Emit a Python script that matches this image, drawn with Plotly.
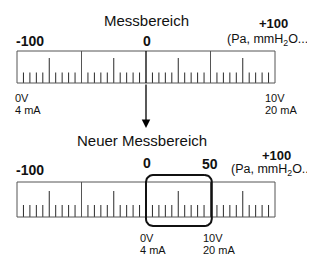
import numpy as np
import plotly.graph_objects as go

# ---------------- data ----------------
scale_min, scale_max = -100, 100
minor_step = 5
medium_step = 25
major_step = 50

top_title = "Messbereich"
bottom_title = "Neuer Messbereich"
top_label_values = [-100, 0, 100]
top_label_texts = ["-100", "0", "+100"]
bottom_label_values = [-100, 0, 50, 100]
bottom_label_texts = ["-100", "0", "50", "+100"]
unit_text = "(Pa, mmH<sub>2</sub>O...)"
unit_text_cut = "(Pa, mmH<sub>2</sub>O..."
new_range = [0, 50]
signal_low = ["0V", "4 mA"]
signal_high = ["10V", "20 mA"]

# ---------------- layout helpers ----------------
W, H = 315, 255
OFF = 8  # page body margin
PX_PER_UNIT = 1.29
X0_PX = 146.0 - OFF
x_range = [(0 - X0_PX) / PX_PER_UNIT, (W - X0_PX) / PX_PER_UNIT]
y_range = [H + OFF, OFF]

FONT = "Liberation Sans, Arial, sans-serif"
TICK_COLOR = "#2a2a2a"
FRAME_COLOR = "#555555"

fig = go.Figure()


def add_scale(y_top, y_bot, med_h, small_h):
    vals = np.arange(scale_min, scale_max + minor_step, minor_step)
    xs_small, ys_small, xs_med, ys_med, xs_maj, ys_maj = [], [], [], [], [], []
    for v in vals:
        if v % major_step == 0:
            if v == 0:
                continue
            xs_maj += [v, v, None]
            ys_maj += [y_top, y_bot, None]
        elif v % medium_step == 0:
            xs_med += [v, v, None]
            ys_med += [y_bot - med_h, y_bot, None]
        else:
            xs_small += [v, v, None]
            ys_small += [y_bot - small_h, y_bot, None]
    for xs, ys, c in [(xs_small, ys_small, TICK_COLOR), (xs_med, ys_med, TICK_COLOR),
                      (xs_maj, ys_maj, FRAME_COLOR)]:
        fig.add_trace(go.Scatter(x=xs, y=ys, mode="lines",
                                 line=dict(color=c, width=1), hoverinfo="skip"))
    fig.add_trace(go.Scatter(x=[scale_min, scale_max, None, scale_min, scale_max],
                             y=[y_top, y_top, None, y_bot, y_bot], mode="lines",
                             line=dict(color=FRAME_COLOR, width=1), hoverinfo="skip"))
    fig.add_trace(go.Scatter(x=[0, 0], y=[y_top, y_bot], mode="lines",
                             line=dict(color="#000000", width=1.3), hoverinfo="skip"))


TOP_Y0, TOP_Y1 = 51, 83
BOT_Y0, BOT_Y1 = 182, 217
add_scale(TOP_Y0, TOP_Y1, 25, 10.5)
add_scale(BOT_Y0, BOT_Y1, 26, 12)

# rounded box around the new range
bx0, bx1 = new_range[0], new_range[1] + 1
by0, by1 = 175, 226
r_px = 7
rx, ry = r_px / PX_PER_UNIT, r_px
box_x, box_y = [], []
corners = [
    (bx1 - rx, by0 + ry, -np.pi / 2, 0),
    (bx1 - rx, by1 - ry, 0, np.pi / 2),
    (bx0 + rx, by1 - ry, np.pi / 2, np.pi),
    (bx0 + rx, by0 + ry, np.pi, 1.5 * np.pi),
]
for cx, cy, a0, a1 in corners:
    t = np.linspace(a0, a1, 8)
    box_x += list(cx + rx * np.cos(t))
    box_y += list(cy + ry * np.sin(t))
box_x.append(box_x[0])
box_y.append(box_y[0])
fig.add_trace(go.Scatter(x=box_x, y=box_y, mode="lines",
                         line=dict(color="#111111", width=2), hoverinfo="skip"))

ann = []


def text(x, y, s, size, bold=False, xanchor="center", xshift=0):
    ann.append(dict(x=x, y=y, xref="x", yref="y", text=f"<b>{s}</b>" if bold else s,
                    showarrow=False, xanchor=xanchor, yanchor="middle", xshift=xshift,
                    font=dict(family=FONT, size=size, color="#111111")))


# top scale text
text(0, 20, top_title, 15)
text(top_label_values[0], 41, top_label_texts[0], 14, bold=True, xanchor="left", xshift=-3)
text(top_label_values[1], 41, top_label_texts[1], 14, bold=True, xshift=1)
text(top_label_values[2], 23, top_label_texts[2], 13, bold=True, xshift=-2)
text(scale_max, 40, unit_text, 12.5, xanchor="right", xshift=39)
text(scale_min, 98, signal_low[0], 11, xanchor="left", xshift=-4)
text(scale_min, 110, signal_low[1], 11, xanchor="left", xshift=-4)
text(scale_max, 98, signal_high[0], 11, xanchor="left", xshift=-12)
text(scale_max, 110, signal_high[1], 11, xanchor="left", xshift=-12)

# bottom scale text
text(0, 140, bottom_title, 15, xshift=-4)
text(bottom_label_values[0], 170, bottom_label_texts[0], 14, bold=True, xanchor="left", xshift=-3)
text(bottom_label_values[1], 163, bottom_label_texts[1], 14, bold=True, xshift=1)
text(bottom_label_values[2], 164, bottom_label_texts[2], 14, bold=True, xshift=-1)
text(bottom_label_values[3], 155, bottom_label_texts[3], 13, bold=True, xshift=1)
text(scale_max, 170, unit_text_cut, 12.5, xanchor="left", xshift=-46)
text(new_range[0], 238, signal_low[0], 11, xanchor="left", xshift=-8)
text(new_range[0], 250, signal_low[1], 11, xanchor="left", xshift=-8)
text(new_range[1], 238, signal_high[0], 11, xanchor="left", xshift=-10)
text(new_range[1], 250, signal_high[1], 11, xanchor="left", xshift=-10)

# arrow from the top scale down
ann.append(dict(x=0, y=128, ax=0, ay=TOP_Y1, xref="x", yref="y", axref="x", ayref="y",
                showarrow=True, arrowhead=2, arrowsize=1.3, arrowwidth=1.3,
                arrowcolor="#000000", text=""))

fig.update_layout(
    width=W, height=H, margin=dict(l=0, r=0, t=0, b=0),
    paper_bgcolor="white", plot_bgcolor="white", showlegend=False,
    xaxis=dict(range=x_range, visible=False, fixedrange=True),
    yaxis=dict(range=y_range, visible=False, fixedrange=True),
    annotations=ann,
)
fig.write_html("out.html")
